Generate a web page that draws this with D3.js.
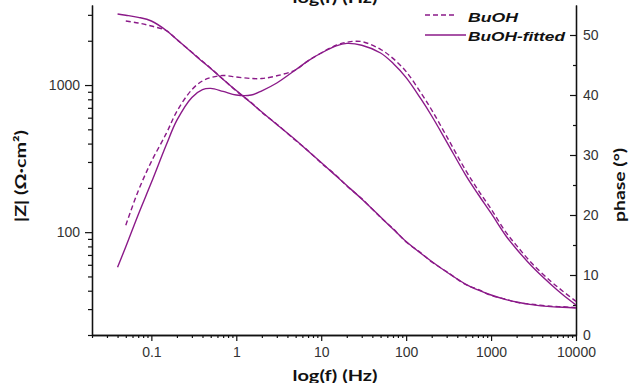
<!DOCTYPE html>
<html>
<head>
<meta charset="utf-8">
<script src="https://cdn.jsdelivr.net/npm/d3@7"></script>
<style>
  html, body { margin: 0; padding: 0; background: #fff; }
  svg { display: block; }
</style>
</head>
<body>
<svg id="chart" width="636" height="383"></svg>
<script>
// ---- data ----
const freq = [0.04, 0.05, 0.07, 0.1, 0.15, 0.2, 0.3, 0.4, 0.5, 0.7, 1, 1.5, 2, 3, 5, 7, 10, 15, 20, 30, 50, 70, 100, 150, 200, 300, 500, 700, 1000, 1500, 2000, 3000, 5000, 7000, 10000];
const zFitted = [3040, 2983, 2886, 2725, 2349, 2039, 1664, 1441, 1296, 1090, 918, 755, 656, 539, 423, 356, 297.6, 240.8, 207.6, 168.1, 126.8, 105.1, 86.4, 71.6, 63.2, 53.6, 44.4, 40.5, 37.4, 34.8, 33.5, 32.2, 31.2, 30.9, 30.5];
const zMeasured = [null, 2725, 2641, 2519, 2340, 2035, 1670, 1450, 1300, 1095, 912, 760, 652, 542, 420, 358, 295, 243, 206, 169, 126, 105.8, 85.8, 72.1, 62.8, 53.9, 44.1, 40.8, 37.2, 35, 33.3, 32.4, 31.4, 31.1, 30.7];
const phaseFitted = [11.3, 14.7, 20.05, 25.4, 31.7, 35.8, 39.6, 40.9, 41.1, 40.6, 40.0, 40.0, 40.7, 42.0, 44.2, 45.7, 47.0, 48.2, 48.6, 48.3, 47.0, 45.3, 42.9, 39.3, 36.5, 32.2, 26.7, 23.5, 20.3, 16.5, 14.3, 11.5, 8.5, 6.7, 5.0];
const phaseMeasured = [null, 18.3, 24.0, 28.9, 33.6, 37.3, 40.9, 42.35, 42.9, 43.25, 43.0, 42.75, 42.75, 43.2, 44.2, 45.7, 47.0, 48.3, 48.8, 48.9, 47.6, 46.1, 43.9, 40.3, 37.5, 33.1, 27.5, 24.2, 21.0, 17.1, 14.9, 12.0, 9.0, 7.3, 5.6];

const xMajorTicks = [0.1, 1, 10, 100, 1000, 10000];
const xTickLabels = ["0.1", "1", "10", "100", "1000", "10000"];
const zMajorTicks = [100, 1000];
const zTickLabels = ["100", "1000"];
const phaseMajorTicks = [0, 10, 20, 30, 40, 50];
const phaseMinorTicks = [5, 15, 25, 35, 45];
const seriesNames = ["BuOH", "BuOH-fitted"];
const xTitle = "log(f) (Hz)";
const zTitle = "|Z| (\u03A9\u00B7cm\u00B2)";
const phaseTitle = "phase (\u00B0)";

// ---- layout ----
const W = 636, H = 383;
const m = { left: 92, right: 60, top: 5, bottom: 48 };
const color = "#8b1a89";
const svg = d3.select("#chart");

const x = d3.scaleLog().domain([0.02, 10000]).range([m.left, W - m.right]);
const yZ = d3.scaleLog().domain([20, 3500]).range([H - m.bottom, m.top]);
const yP = d3.scaleLinear().domain([0, 55]).range([H - m.bottom, m.top]);

// minor ticks generated from decades
function minorLog(lo, hi) {
  const out = [];
  for (let e = Math.floor(Math.log10(lo)); e <= Math.ceil(Math.log10(hi)); e++) {
    for (let k = 2; k <= 9; k++) {
      const v = k * Math.pow(10, e);
      if (v >= lo && v <= hi) out.push(v);
    }
  }
  return out;
}

const tickFont = "Liberation Sans, Arial, sans-serif";

function styleAxis(g) {
  g.selectAll("path.domain").attr("stroke", "#111").attr("stroke-width", 1.3);
  g.selectAll(".tick line").attr("stroke", "#111").attr("stroke-width", 1.2);
  g.selectAll(".tick text").attr("fill", "#333").style("font-family", tickFont).style("font-size", "14px");
}

// bottom axis
const gx = svg.append("g").attr("transform", `translate(0,${H - m.bottom})`)
  .call(d3.axisBottom(x).tickValues(xMajorTicks).tickFormat((d, i) => xTickLabels[i]).tickSize(6).tickSizeOuter(0).tickPadding(6));
styleAxis(gx);
const gxm = svg.append("g").attr("transform", `translate(0,${H - m.bottom})`)
  .call(d3.axisBottom(x).tickValues(minorLog(0.02, 10000)).tickFormat("").tickSize(3).tickSizeOuter(0));
styleAxis(gxm);

// left axis
const gy = svg.append("g").attr("transform", `translate(${m.left},0)`)
  .call(d3.axisLeft(yZ).tickValues(zMajorTicks).tickFormat((d, i) => zTickLabels[i]).tickSize(7).tickSizeOuter(0).tickPadding(5));
styleAxis(gy);
const gym = svg.append("g").attr("transform", `translate(${m.left},0)`)
  .call(d3.axisLeft(yZ).tickValues(minorLog(20, 3500).filter(v => v !== 100 && v !== 1000)).tickFormat("").tickSize(4).tickSizeOuter(0));
styleAxis(gym);

// right axis (ticks pointing inward)
const gp = svg.append("g").attr("transform", `translate(${W - m.right},0)`)
  .call(d3.axisRight(yP).tickValues(phaseMajorTicks).tickSize(-6).tickSizeOuter(0).tickPadding(7));
styleAxis(gp);
const gpm = svg.append("g").attr("transform", `translate(${W - m.right},0)`)
  .call(d3.axisRight(yP).tickValues(phaseMinorTicks).tickFormat("").tickSize(-3).tickSizeOuter(0));
styleAxis(gpm);

// lines
const idx = d3.range(freq.length);
function drawLine(vals, yScale, dashed) {
  const line = d3.line()
    .defined(i => vals[i] != null)
    .x(i => x(freq[i]))
    .y(i => yScale(vals[i]))
    .curve(d3.curveCatmullRom.alpha(0.5));
  svg.append("path")
    .attr("d", line(idx))
    .attr("fill", "none")
    .attr("stroke", color)
    .attr("stroke-width", 1.4)
    .attr("stroke-dasharray", dashed ? "5,3" : null);
}
drawLine(zMeasured, yZ, true);
drawLine(phaseMeasured, yP, true);
drawLine(zFitted, yZ, false);
drawLine(phaseFitted, yP, false);

// titles
const titleFont = "Lato, 'Open Sans', sans-serif";
svg.append("text").attr("x", 335).attr("y", 381).attr("text-anchor", "middle")
  .style("font-family", titleFont).style("font-weight", "bold").style("font-size", "16px").attr("fill", "#111")
  .attr("textLength", 85).attr("lengthAdjust", "spacingAndGlyphs").text(xTitle);
svg.append("text").attr("x", 335).attr("y", 3).attr("text-anchor", "middle")
  .style("font-family", titleFont).style("font-weight", "bold").style("font-size", "16px").attr("fill", "#111")
  .attr("textLength", 85).attr("lengthAdjust", "spacingAndGlyphs").text(xTitle);
svg.append("text").attr("transform", "translate(26,176) rotate(-90)").attr("text-anchor", "middle")
  .style("font-family", titleFont).style("font-weight", "bold").style("font-size", "15px").attr("fill", "#111")
  .attr("textLength", 92).attr("lengthAdjust", "spacingAndGlyphs").text(zTitle);
svg.append("text").attr("transform", "translate(625,185) rotate(-90)").attr("text-anchor", "middle")
  .style("font-family", titleFont).style("font-weight", "bold").style("font-size", "15px").attr("fill", "#111")
  .attr("textLength", 74).attr("lengthAdjust", "spacingAndGlyphs").text(phaseTitle);

// legend
const legend = [
  { name: seriesNames[0], dashed: true, y: 15, x2: 455, ty: 22, len: 50 },
  { name: seriesNames[1], dashed: false, y: 35, x2: 466, ty: 41, len: 97 }
];
legend.forEach(l => {
  svg.append("line").attr("x1", 425).attr("x2", l.x2).attr("y1", l.y).attr("y2", l.y)
    .attr("stroke", color).attr("stroke-width", 1.4).attr("stroke-dasharray", l.dashed ? "5,3" : null);
  svg.append("text").attr("x", 468).attr("y", l.ty)
    .style("font-family", tickFont).style("font-weight", "bold").style("font-style", "italic").style("font-size", "13px")
    .attr("fill", "#111").attr("textLength", l.len).attr("lengthAdjust", "spacingAndGlyphs").text(l.name);
});
</script>
</body>
</html>
